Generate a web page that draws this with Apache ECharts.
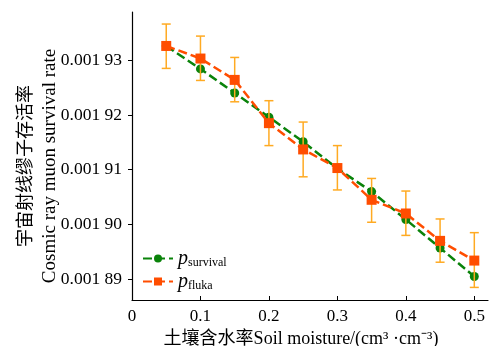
<!DOCTYPE html>
<html><head><meta charset="utf-8">
<script src="https://cdn.jsdelivr.net/npm/echarts@6/dist/echarts.min.js"></script>
<style>html,body{margin:0;padding:0;background:#fff}#c{width:492px;height:346px}</style>
</head><body><div id="c"></div>
<script>
var moisture = [0.05, 0.10, 0.15, 0.20, 0.25, 0.30, 0.35, 0.40, 0.45, 0.50];
var pSurvival = [0.0019326, 0.0019284, 0.0019240, 0.0019196, 0.0019151, 0.0019102, 0.0019060, 0.0019009, 0.0018957, 0.0018905];
var pFluka = [0.0019326, 0.0019303, 0.0019264, 0.0019185, 0.0019137, 0.0019103, 0.0019045, 0.0019020, 0.0018970, 0.0018934];
var flukaUpper = [0.0019366, 0.0019344, 0.0019305, 0.0019226, 0.0019187, 0.0019144, 0.0019084, 0.0019061, 0.0019010, 0.0018985];
var flukaLower = [0.0019285, 0.0019263, 0.0019224, 0.0019144, 0.0019087, 0.0019063, 0.0019004, 0.0018980, 0.0018931, 0.0018885];
var xTicks = [0, 0.1, 0.2, 0.3, 0.4, 0.5];
var yTicks = [0.00189, 0.00190, 0.00191, 0.00192, 0.00193];

var serif = "'Liberation Serif','Times New Roman','Noto Sans CJK SC',serif";
var chart = echarts.init(document.getElementById('c'));
var survData = moisture.map(function(x,i){return [x,pSurvival[i]];});
var flukaData = moisture.map(function(x,i){return [x,pFluka[i]];});
var errData = moisture.map(function(x,i){return [x,flukaLower[i],flukaUpper[i]];});
var green = '#0a830a', orange = '#ff4d00', errColor = '#ffaa22';
chart.setOption({
  animation:false,
  grid:{left:132,right:4,top:12,bottom:46,outerBoundsMode:'none',containLabel:false},
  legend:{
    left:142, top:249, orient:'vertical', itemWidth:30, itemHeight:10, itemGap:3, padding:0,
    data:['survival','fluka'],
    formatter:function(n){return '{p|p}{s|'+n+'}';},
    textStyle:{fontFamily:serif, rich:{
      p:{fontFamily:serif,fontStyle:'italic',fontSize:20,lineHeight:21,color:'#000',verticalAlign:'bottom'},
      s:{fontFamily:serif,fontSize:12,lineHeight:12,color:'#000',verticalAlign:'bottom'}
    }}
  },
  xAxis:{
    type:'value', min:0, max:0.52,
    name:'土壤含水率Soil moisture/(cm³ ·cm⁻³)', nameLocation:'middle', nameGap:28,
    nameTextStyle:{fontFamily:serif,fontSize:18,color:'#000',padding:[0,18,0,0]},
    axisLine:{show:true,lineStyle:{color:'#000',width:1.2}},
    axisTick:{show:true,inside:true,length:4,customValues:xTicks,lineStyle:{color:'#000'}},
    axisLabel:{customValues:xTicks,fontFamily:serif,fontSize:17,color:'#000',margin:8,
      formatter:function(v){return v===0?'0':v.toFixed(1);}},
    splitLine:{show:false}
  },
  yAxis:{
    type:'value', min:0.0018862, max:0.0019388,
    name:'{cn|宇宙射线缪子存活率}\n{en|Cosmic ray muon survival rate}', nameLocation:'middle', nameGap:71, nameRotate:90,
    nameMoveOverlap:false,
    nameTextStyle:{fontFamily:serif,fontSize:18,color:'#000',padding:[0,20,0,0],rich:{
      cn:{fontFamily:serif,fontSize:18,lineHeight:26,color:'#000'},
      en:{fontFamily:serif,fontSize:19,lineHeight:22,color:'#000'}
    }},
    axisLine:{show:true,lineStyle:{color:'#000',width:1.2}},
    axisTick:{show:true,inside:false,length:4,customValues:yTicks,lineStyle:{color:'#000'}},
    axisLabel:{customValues:yTicks,fontFamily:serif,fontSize:17.5,color:'#000',margin:10,
      formatter:function(v){var s=v.toFixed(5);return s.slice(0,5)+' '+s.slice(5);}},
    splitLine:{show:false}
  },
  series:[
    {name:'survival',type:'line',data:survData,symbol:'circle',symbolSize:9,
     itemStyle:{color:green},lineStyle:{color:green,width:2.5,type:[9,4]},z:2},
    {name:'err',type:'custom',data:errData,z:3,
     renderItem:function(params,api){
       var x=api.value(0);
       var lo=api.coord([x,api.value(1)]), hi=api.coord([x,api.value(2)]);
       var w=4.5;
       var st={stroke:errColor,lineWidth:1.5};
       return {type:'group',children:[
         {type:'line',shape:{x1:lo[0],y1:lo[1],x2:hi[0],y2:hi[1]},style:st},
         {type:'line',shape:{x1:lo[0]-w,y1:lo[1],x2:lo[0]+w,y2:lo[1]},style:st},
         {type:'line',shape:{x1:hi[0]-w,y1:hi[1],x2:hi[0]+w,y2:hi[1]},style:st}
       ]};
     }},
    {name:'fluka',type:'line',data:flukaData,symbol:'rect',symbolSize:10,
     itemStyle:{color:orange},lineStyle:{color:orange,width:2.5,type:[9,4]},z:4}
  ]
});
</script></body></html>
